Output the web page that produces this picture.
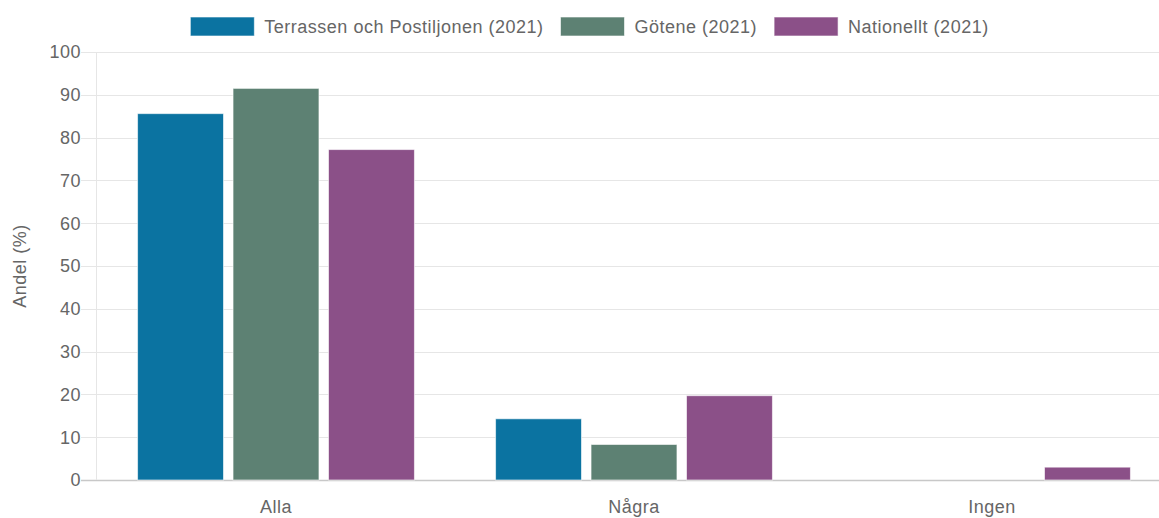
<!DOCTYPE html>
<html>
<head>
<meta charset="utf-8">
<script src="https://cdn.jsdelivr.net/npm/d3@7"></script>
<style>
  body { margin: 0; background: #fff; }
  svg { display: block; font-family: "Liberation Sans", Arial, sans-serif; }
  text { letter-spacing: 0.5px; }
</style>
</head>
<body>
<div class="content"></div>
<script>
//--> Data
const categories = ["Alla", "Några", "Ingen"];
const seriesNames = ["Terrassen och Postiljonen (2021)", "Götene (2021)", "Nationellt (2021)"];
const terrassen = [85.6, 14.3, 0];
const gotene = [91.5, 8.3, 0];
const nationellt = [77.2, 19.7, 3.0];
const yTicks = [0, 10, 20, 30, 40, 50, 60, 70, 80, 90, 100];

const colors = ["#0b73a1", "#5d8173", "#8b5088"];
const seriesValues = [terrassen, gotene, nationellt];

//--> Constants
const width = 1159;
const height = 518;
const margin = { top: 52, right: -12, bottom: 38, left: 97 };
const fontSize = 18;
const textColor = "#666";

const svg = d3
  .select(".content")
  .append("svg")
  .attr("width", width)
  .attr("height", height);

const x = d3
  .scaleBand()
  .domain(categories)
  .range([margin.left, width - margin.right]);

const xInner = d3
  .scaleBand()
  .domain(seriesNames)
  .range([x.bandwidth() * 0.1, x.bandwidth() * 0.9])
  .paddingInner(0.1)
  .paddingOuter(0.05);

const y = d3
  .scaleLinear()
  .domain([0, 100])
  .range([height - margin.bottom, margin.top]);

//--> Grid lines
const grid = svg.append("g");
grid
  .selectAll("line")
  .data(yTicks)
  .enter()
  .append("line")
  .attr("x1", margin.left - 16)
  .attr("x2", width)
  .attr("y1", d => Math.round(y(d)) + 0.5)
  .attr("y2", d => Math.round(y(d)) + 0.5)
  .attr("stroke", d => (d === 0 ? "#c8c8c8" : "#e6e6e6"))
  .attr("stroke-width", d => (d === 0 ? 1.5 : 1));

svg
  .append("line")
  .attr("x1", margin.left - 0.5)
  .attr("x2", margin.left - 0.5)
  .attr("y1", y(100))
  .attr("y2", y(0))
  .attr("stroke", "#e6e6e6");

//--> Y tick labels
svg
  .append("g")
  .selectAll("text")
  .data(yTicks)
  .enter()
  .append("text")
  .attr("x", margin.left - 16)
  .attr("y", d => y(d))
  .attr("dy", "0.35em")
  .attr("text-anchor", "end")
  .attr("font-size", fontSize)
  .attr("fill", textColor)
  .text(d => d);

svg
  .append("text")
  .attr("transform", `translate(26, ${(y(0) + y(100)) / 2}) rotate(-90)`)
  .attr("text-anchor", "middle")
  .attr("font-size", fontSize)
  .attr("fill", textColor)
  .text("Andel (%)");

//--> Bars
const groups = svg
  .append("g")
  .selectAll("g")
  .data(categories)
  .enter()
  .append("g")
  .attr("transform", d => `translate(${x(d)}, 0)`);

groups
  .selectAll("rect")
  .data((c, i) => seriesNames.map((s, j) => ({ s, j, v: seriesValues[j][i] })))
  .enter()
  .filter(d => d.v > 0)
  .append("rect")
  .attr("x", d => xInner(d.s))
  .attr("width", xInner.bandwidth())
  .attr("y", d => y(d.v))
  .attr("height", d => y(0) - y(d.v))
  .attr("fill", d => colors[d.j])
  .attr("stroke", "rgba(255,255,255,0.6)")
  .attr("stroke-width", 1);

//--> X labels
svg
  .append("g")
  .selectAll("text")
  .data(categories)
  .enter()
  .append("text")
  .attr("x", d => x(d) + x.bandwidth() / 2)
  .attr("y", height - 5)
  .attr("text-anchor", "middle")
  .attr("font-size", fontSize)
  .attr("fill", textColor)
  .text(d => d);

//--> Legend
const legend = svg.append("g");
const boxW = 64;
const boxH = 19;
let lx = 0;
seriesNames.forEach((name, i) => {
  const item = legend.append("g");
  item
    .append("rect")
    .attr("x", 0)
    .attr("y", 0)
    .attr("width", boxW)
    .attr("height", boxH)
    .attr("fill", colors[i])
    .attr("stroke", "rgba(255,255,255,0.6)");
  const t = item
    .append("text")
    .attr("x", boxW + 10)
    .attr("y", boxH / 2)
    .attr("dy", "0.35em")
    .attr("font-size", fontSize)
    .attr("fill", textColor)
    .text(name);
  const w = boxW + 10 + t.node().getComputedTextLength();
  item.attr("transform", `translate(${lx}, 17)`);
  lx += w + 17;
});
const legendWidth = lx - 17;
legend.attr("transform", `translate(${(width - legendWidth) / 2 + 10}, 0)`);
</script>
</body>
</html>
